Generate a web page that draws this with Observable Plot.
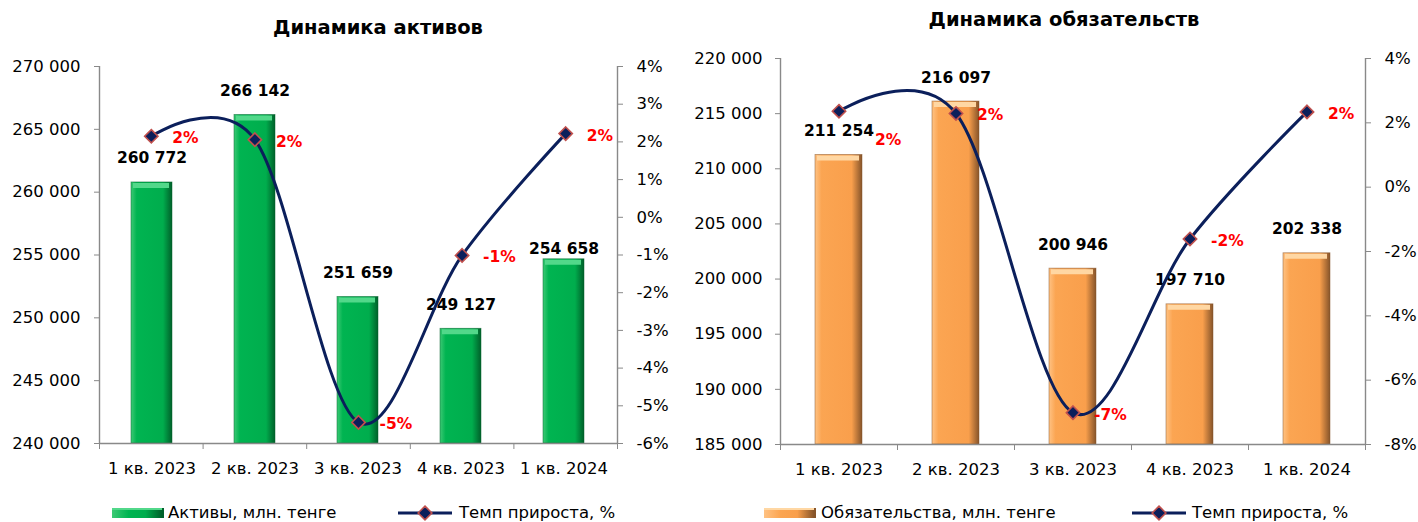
<!DOCTYPE html>
<html>
<head>
<meta charset="utf-8">
<script src="https://cdn.jsdelivr.net/npm/d3@7"></script>
<script src="https://cdn.jsdelivr.net/npm/@observablehq/plot@0.6"></script>
<style>
  body { margin: 0; background: #fff; font-family: "DejaVu Sans", sans-serif; }
  #root { position: relative; width: 1418px; height: 522px; overflow: hidden; background: #fff; }
  .layer { position: absolute; top: 0; }
  .title { position: absolute; font-weight: bold; font-size: 19.5px; line-height: 22px; color: #000; transform: translateX(-50%); white-space: nowrap; }
  .legtext { position: absolute; font-size: 16.5px; line-height: 20px; color: #000; white-space: nowrap; }
  .swatch { position: absolute; height: 10px; width: 52px; box-sizing: border-box; }
</style>
</head>
<body>
<svg width="0" height="0" style="position:absolute">
  <defs>
    <linearGradient id="gGreen" x1="0" x2="1" y1="0" y2="0">
      <stop offset="0" stop-color="#3cc974"/>
      <stop offset="0.14" stop-color="#00b451"/>
      <stop offset="0.78" stop-color="#00ad4d"/>
      <stop offset="1" stop-color="#00602a"/>
    </linearGradient>
    <linearGradient id="gOrange" x1="0" x2="1" y1="0" y2="0">
      <stop offset="0" stop-color="#ffc283"/>
      <stop offset="0.14" stop-color="#fba552"/>
      <stop offset="0.78" stop-color="#f99f4c"/>
      <stop offset="1" stop-color="#86542a"/>
    </linearGradient>
  </defs>
</svg>
<div id="root"></div>
<script>
// ---------- data ----------
const quarters = ["1 кв. 2023", "2 кв. 2023", "3 кв. 2023", "4 кв. 2023", "1 кв. 2024"];

const assets = [260772, 266142, 251659, 249127, 254658];
const assetsGrowth = [2.15, 2.06, -5.44, -1.01, 2.22];

const liabilities = [211254, 216097, 200946, 197710, 202338];
const liabilitiesGrowth = [2.36, 2.29, -7.01, -1.61, 2.34];

const assetsTicks = [240000, 245000, 250000, 255000, 260000, 265000, 270000];
const assetsGrowthTicks = [-6, -5, -4, -3, -2, -1, 0, 1, 2, 3, 4];
const liabilitiesTicks = [185000, 190000, 195000, 200000, 205000, 210000, 215000, 220000];
const liabilitiesGrowthTicks = [-8, -6, -4, -2, 0, 2, 4];

const titles = ["Динамика активов", "Динамика обязательств"];
const barNames = ["Активы, млн. тенге", "Обязательства, млн. тенге"];
const lineName = "Темп прироста, %";

// ---------- drawing ----------
const fmt = d => d3.format(",")(d).replace(/,/g, " ");
const AXIS = "#898989";
const NAVY = "#0b1f5b";
const root = document.getElementById("root");

function chart(o) {
  const data = quarters.map((q, i) => ({q, i, v: o.values[i], g: o.growth[i]}));
  const common = {
    width: o.width, height: o.height,
    marginLeft: o.mL, marginRight: o.mR, marginTop: o.mT, marginBottom: o.mB,
    style: {fontFamily: "DejaVu Sans", fontSize: "16.5px", color: "#000", background: "transparent", overflow: "visible"}
  };
  const vShift = o.valueShift || {};
  const gShift = o.growthShift || {};

  const bars = Plot.plot({
    ...common,
    x: {domain: quarters, paddingInner: 0.6, paddingOuter: 0.3, label: null},
    y: {domain: [o.yTicks[0], o.yTicks[o.yTicks.length - 1]], label: null},
    marks: [
      Plot.barY(data, {x: "q", y1: o.yTicks[0], y2: "v", fill: `url(#${o.grad})`, stroke: o.edge, strokeWidth: 0.8, strokeOpacity: 0.6}),
      Plot.tickY(data, {x: "q", y: "v", stroke: o.bevel, strokeWidth: 5, dy: 3, insetLeft: 2, insetRight: 3}),
      Plot.axisY({ticks: o.yTicks, tickSize: 5, tickPadding: o.yPad, tickFormat: fmt, stroke: AXIS, fill: "#000", label: null}),
      Plot.axisX({tickSize: 0, tickPadding: 19, fill: "#000", label: null}),
      Plot.text(data.filter(d => !(d.i in vShift)), {x: "q", y: "v", text: d => fmt(d.v), dy: -24, fontWeight: "bold", fontSize: 15.5, fill: "#000"}),
      ...Object.entries(vShift).map(([i, dy]) =>
        Plot.text(data.filter(d => d.i === +i), {x: "q", y: "v", text: d => fmt(d.v), dy, fontWeight: "bold", fontSize: 15.5, fill: "#000"}))
    ]
  });

  const n = quarters.length;
  const xi = d => d.i + 0.5;
  const line = Plot.plot({
    ...common,
    x: {domain: [0, n], label: null},
    y: {domain: [o.pTicks[0], o.pTicks[o.pTicks.length - 1]], label: null},
    marks: [
      Plot.ruleX([0, n], {stroke: AXIS, strokeWidth: 1.4}),
      Plot.ruleY([o.pTicks[0]], {stroke: AXIS, strokeWidth: 1.4}),
      Plot.axisX({ticks: d3.range(n + 1), tickSize: 6, tickFormat: () => "", stroke: AXIS, label: null}),
      Plot.axisY({anchor: "right", ticks: o.pTicks, tickSize: 5, tickPadding: 14, tickFormat: d => d + "%", stroke: AXIS, fill: "#000", label: null}),
      Plot.line(data, {x: xi, y: "g", curve: "cardinal", stroke: NAVY, strokeWidth: 3}),
      Plot.dot(data, {x: xi, y: "g", symbol: "diamond2", r: 6, fill: NAVY, stroke: "#c0504d", strokeWidth: 1.6}),
      Plot.text(data.filter(d => !(d.i in gShift)), {x: xi, y: "g", text: d => Math.round(d.g) + "%", dx: 21, dy: 2, textAnchor: "start", fill: "#ff0000", fontWeight: "bold", fontSize: 15.5}),
      ...Object.entries(gShift).map(([i, [dx, dy]]) =>
        Plot.text(data.filter(d => d.i === +i), {x: xi, y: "g", text: d => Math.round(d.g) + "%", dx, dy, textAnchor: "start", fill: "#ff0000", fontWeight: "bold", fontSize: 15.5}))
    ]
  });

  for (const svg of [bars, line]) {
    const wrap = document.createElement("div");
    wrap.className = "layer";
    wrap.style.left = o.left + "px";
    wrap.appendChild(svg);
    root.appendChild(wrap);
  }

  // title
  const t = document.createElement("div");
  t.className = "title";
  t.textContent = o.title;
  t.style.left = o.titleX + "px";
  t.style.top = o.titleY + "px";
  root.appendChild(t);

  // legend
  const sw = document.createElement("div");
  sw.className = "swatch";
  sw.style.left = o.leg.sw + "px";
  sw.style.top = "508px";
  sw.style.background = `linear-gradient(to bottom, ${o.bevel} 0 2px, transparent 2px), linear-gradient(to right, ${o.legColors.join(",")})`;
  sw.style.borderRight = `2px solid ${o.legColors[3]}`;
  root.appendChild(sw);
  const lt = document.createElement("div");
  lt.className = "legtext";
  lt.textContent = o.barName;
  lt.style.left = o.leg.t1 + "px";
  lt.style.top = "503px";
  root.appendChild(lt);

  const ls = d3.create("svg").attr("width", 56).attr("height", 16)
    .style("position", "absolute").style("left", o.leg.ln + "px").style("top", "505px");
  ls.append("line").attr("x1", 0).attr("x2", 54).attr("y1", 8).attr("y2", 8).attr("stroke", NAVY).attr("stroke-width", 3);
  ls.append("path").attr("d", d3.symbol(d3.symbolDiamond2, 120)()).attr("transform", "translate(27,8)")
    .attr("fill", NAVY).attr("stroke", "#c0504d").attr("stroke-width", 1.6);
  root.appendChild(ls.node());
  const lt2 = document.createElement("div");
  lt2.className = "legtext";
  lt2.textContent = lineName;
  lt2.style.left = o.leg.t2 + "px";
  lt2.style.top = "503px";
  root.appendChild(lt2);
}

chart({
  left: 0, width: 709, height: 480, mL: 99, mR: 92, mT: 66, mB: 37, yPad: 14,
  values: assets, growth: assetsGrowth, yTicks: assetsTicks, pTicks: assetsGrowthTicks,
  grad: "gGreen", edge: "#00602a", bevel: "#52d88a",
  legColors: ["#3cc974", "#00b451", "#00ad4d", "#00602a"],
  valueShift: {4: -10},
  title: titles[0], titleX: 378, titleY: 17,
  barName: barNames[0], leg: {sw: 112, t1: 168, ln: 398, t2: 459}
});

chart({
  left: 709, width: 709, height: 480, mL: 71, mR: 53, mT: 58, mB: 36, yPad: 13,
  values: liabilities, growth: liabilitiesGrowth, yTicks: liabilitiesTicks, pTicks: liabilitiesGrowthTicks,
  grad: "gOrange", edge: "#86542a", bevel: "#ffd7a3",
  legColors: ["#ffc283", "#fba552", "#f99f4c", "#86542a"],
  growthShift: {0: [36, 29]},
  title: titles[1], titleX: 1064, titleY: 9,
  barName: barNames[1], leg: {sw: 764, t1: 821, ln: 1132, t2: 1192}
});
</script>
</body>
</html>
